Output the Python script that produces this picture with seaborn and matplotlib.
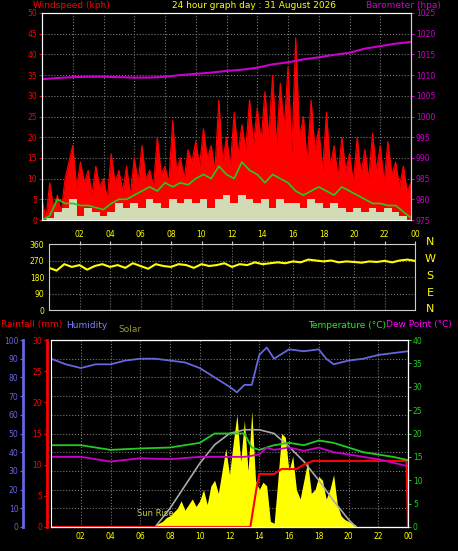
import numpy as np
import pandas as pd
import seaborn as sns
import matplotlib.pyplot as plt

# ---- data ----
hours_q = [i * 0.25 for i in range(97)]
gust = [5, 0, 9, 3, 6, 2, 10, 14, 18, 8, 14, 9, 12, 6, 13, 8, 10, 5, 16, 9, 12, 7, 13, 6,
        15, 9, 18, 10, 12, 8, 20, 11, 13, 9, 24, 12, 15, 10, 17, 14, 19, 13, 22, 15, 18, 12, 29, 14,
        20, 13, 26, 16, 23, 17, 29, 18, 27, 19, 31, 20, 35, 18, 33, 22, 37, 16, 44, 20, 25, 14, 29, 17,
        22, 12, 26, 13, 18, 10, 20, 12, 16, 9, 20, 11, 17, 10, 21, 12, 18, 9, 19, 11, 14, 8, 13, 7, 9]
hours_h = [i * 0.5 for i in range(49)]
avg_wind = [0, 1, 5, 4, 4, 3.5, 3.5, 3, 2.5, 4, 5, 5, 6, 7, 8, 7, 9, 8, 9, 8.5, 10, 11, 10, 13, 11,
            10, 14, 12, 11, 9, 11, 10, 9, 7, 6, 7, 8, 7, 6, 8, 7, 6, 5, 4, 4, 3.5, 3.5, 2, 0.5]
wind = [0, 0.5, 2, 3, 5, 1, 3, 2, 1, 2, 4, 3, 4, 3, 5, 4, 3, 5, 4, 5, 4, 5, 3, 5, 6,
        4, 6, 5, 4, 5, 3, 5, 4, 4, 3, 5, 4, 3, 4, 3, 2, 3, 2, 3, 2, 3, 2, 1, 0]
hours = list(range(25))
baro = [1009, 1009.3, 1009.5, 1009.6, 1009.6, 1009.5, 1009.4, 1009.4, 1009.6, 1010, 1010.3, 1010.6,
        1011, 1011.3, 1011.8, 1012.6, 1013.1, 1013.8, 1014.3, 1014.9, 1015.4, 1016.4, 1017, 1017.6, 1018]
wdir = [230, 215, 250, 235, 245, 220, 240, 250, 235, 245, 230, 255, 240, 225, 250, 240, 235, 250, 245, 230,
        250, 240, 245, 255, 235, 250, 245, 260, 250, 255, 260, 255, 265, 260, 275, 270, 265, 270, 260, 265,
        262, 258, 265, 262, 268, 260, 270, 275, 268]

hum_t = [0, 1, 2, 3, 4, 5, 6, 7, 8, 9, 10, 11, 12, 12.5, 13, 13.5, 14, 14.5, 15, 16, 17, 18, 18.5, 19, 20, 21, 22, 23, 24]
humidity = [90, 87, 85, 87, 87, 89, 90, 90, 89, 88, 85, 80, 75, 72, 76, 76, 92, 96, 90, 95, 94, 95, 90, 87, 89, 90, 92, 93, 94]
temp_t = [0, 2, 4, 6, 8, 10, 11, 12, 13, 13.5, 14, 15, 16, 17, 18, 19, 20, 21, 22, 23, 24]
temperature = [17.5, 17.5, 16.5, 16.8, 17, 18, 20, 20, 20, 17, 16.5, 17.5, 18, 17.5, 18.5, 18, 17, 16, 15.5, 15, 14.3]
dew_t = [0, 2, 4, 6, 8, 10, 12, 13, 14, 14.5, 15, 16, 17, 18, 19, 20, 22, 24]
dewpoint = [15, 15, 14, 14.7, 14.5, 15, 15, 15, 15.5, 17, 16.5, 17, 16.3, 17, 16, 15.5, 14.5, 13]
rain_t = [0, 13.4, 13.6, 13.8, 14, 15, 15.5, 16.5, 17, 17.6, 23.9, 24]
rain = [0, 0, 3, 6, 8.5, 8.5, 9.3, 9.3, 10, 10.6, 10.6, 0]
solar_t = [7 + i * 0.25 for i in range(55)]
solar = [1, 2, 3, 5, 6, 8, 10, 14, 9, 12, 15, 11, 14, 20, 12, 22, 25, 18, 30, 42, 28, 45, 60, 35,
         57, 30, 62, 25, 20, 24, 22, 3, 2, 25, 50, 48, 30, 38, 20, 15, 25, 35, 18, 20, 27, 25, 15, 20,
         28, 12, 6, 4, 3, 2, 1]
clear_t = [7, 8, 9, 10, 11, 12, 13, 14, 15, 16, 17, 18, 19, 20, 20.5]
clear_sky = [0, 10, 22, 34, 44, 50, 52, 52, 50, 43, 35, 25, 14, 4, 0]
tick_hours = list(range(2, 25, 2))
tick_labels = ['%02d' % (h % 24) for h in tick_hours]

sns.set_style('dark')
plt.rcParams['font.family'] = ['DejaVu Sans']
fig = plt.figure(figsize=(4.58, 5.51), dpi=100, facecolor='black')
W, H = 458, 551

def make_ax(l, t, r, b):
    ax = fig.add_axes([l / W, 1 - b / H, (r - l) / W, (b - t) / H])
    ax.set_facecolor('black')
    ax.grid(True, color='#777777', linestyle=':', linewidth=0.8)
    for s in ax.spines.values():
        s.set_color('#cccccc')
    ax.tick_params(labelsize=5.5, length=2, pad=1.5)
    return ax

# ---- top panel ----
ax1 = make_ax(42, 13, 411, 220)
ax1.fill_between(hours_q, gust, color='#ff0000', linewidth=0)
sns.lineplot(x=hours_q, y=gust, ax=ax1, color='#ff0000', linewidth=0.8)
ax1.fill_between(hours_h, wind, color='#ccf5cc', step='mid', linewidth=0, alpha=0.9)
sns.lineplot(x=hours_h, y=avg_wind, ax=ax1, color='#22cc22', linewidth=1.2)
ax1.set_xlim(0, 24)
ax1.set_ylim(0, 50)
ax1.set_yticks(range(0, 51, 5))
ax1.set_xticks(tick_hours)
ax1.tick_params(axis='y', colors='#ff0000', labelcolor='#ff0000')
ax1.tick_params(axis='x', labelbottom=False, colors='#cccccc')
ax1b = ax1.twinx()
sns.lineplot(x=hours, y=baro, ax=ax1b, color='#cc00cc', linewidth=1.5)
ax1b.set_ylim(975, 1025)
ax1b.set_yticks(range(975, 1026, 5))
ax1b.tick_params(axis='y', colors='#cc00cc', labelcolor='#cc00cc', labelsize=5.5, length=2, pad=1.5)
ax1b.spines['right'].set_color('#cccccc')
fig.text(33 / W, 1 - 5 / H, 'Windspeed (kph)', color='#ff0000', fontsize=6.5, va='center')
fig.text(254 / W, 1 - 5 / H, '24 hour graph day : 31 August 2026', color='#ffff00', fontsize=6.5, ha='center', va='center')
fig.text(366 / W, 1 - 5 / H, 'Barometer (hpa)', color='#cc00cc', fontsize=6.5, va='center')

# ---- middle panel ----
ax2 = make_ax(49, 244, 415, 310)
sns.lineplot(x=hours_h, y=wdir, ax=ax2, color='#ffff00', linewidth=1.5)
ax2.set_xlim(0, 24)
ax2.set_ylim(0, 360)
ax2.set_yticks(range(0, 361, 90))
ax2.set_xticks(tick_hours)
ax2.set_xticklabels(tick_labels)
ax2.tick_params(axis='x', top=True, labeltop=True, labelbottom=False, bottom=False,
                labelcolor='#ffff00', colors='#cccccc')
ax2.tick_params(axis='y', labelcolor='#ffff00')
for lab, yp in zip(['N', 'W', 'S', 'E', 'N'], [242, 259, 276, 293, 309]):
    fig.text(430 / W, 1 - yp / H, lab, color='#ffff00', fontsize=8, ha='center', va='center')

# ---- bottom panel ----
ax3 = make_ax(51, 340, 408, 527)
ax3.fill_between(solar_t, solar, color='#ffff00', linewidth=0)
sns.lineplot(x=clear_t, y=clear_sky, ax=ax3, color='#aaaaaa', linewidth=1.2)
sns.lineplot(x=hum_t, y=humidity, ax=ax3, color='#6666dd', linewidth=1.3)
ax3.set_xlim(0, 24)
ax3.set_ylim(0, 100)
ax3.set_xticks(tick_hours)
ax3.set_xticklabels(tick_labels)
ax3.set_yticks(range(0, 101, 10))
ax3.tick_params(axis='x', labelcolor='#ffff00', colors='#cccccc')
ax3.tick_params(axis='y', labelcolor='#6666dd', colors='#6666dd')
ax3.spines['left'].set_position(('outward', 20))
ax3.spines['left'].set_color('#6666dd')
ax3.spines['left'].set_linewidth(2)
ax3r = ax3.twinx()
sns.lineplot(x=rain_t, y=rain, ax=ax3r, color='#ff0000', linewidth=1.5)
ax3r.set_ylim(0, 30)
ax3r.set_yticks(range(0, 31, 5))
ax3r.yaxis.set_ticks_position('left')
ax3r.yaxis.set_label_position('left')
ax3r.tick_params(axis='y', colors='#ff0000', labelcolor='#ff0000', labelsize=5.5, length=2, pad=1.5)
ax3r.spines['left'].set_position(('outward', 3))
ax3r.spines['left'].set_color('#ff0000')
ax3r.spines['left'].set_linewidth(2)
ax3t = ax3.twinx()
sns.lineplot(x=temp_t, y=temperature, ax=ax3t, color='#22cc22', linewidth=1.3)
sns.lineplot(x=dew_t, y=dewpoint, ax=ax3t, color='#cc00cc', linewidth=1.3)
ax3t.set_ylim(0, 40)
ax3t.set_yticks(range(0, 41, 5))
ax3t.tick_params(axis='y', colors='#22cc22', labelcolor='#22cc22', labelsize=5.5, length=2, pad=1.5)
for a in (ax3r, ax3t):
    a.set_xlim(0, 24)
    a.grid(False)
ax3.text(7, 5, 'Sun Rise', color='#cccc33', fontsize=6, ha='center', va='bottom')
fig.text(1 / W, 1 - 325 / H, 'Rainfall (mm)', color='#ff0000', fontsize=6.5, va='center')
fig.text(66 / W, 1 - 325 / H, 'Humidity', color='#8080ff', fontsize=6.5, va='center')
fig.text(118 / W, 1 - 330 / H, 'Solar', color='#999933', fontsize=6.5, va='center')
fig.text(308 / W, 1 - 325 / H, 'Temperature (\u00b0C)', color='#22ee22', fontsize=6.5, va='center')
fig.text(386 / W, 1 - 325 / H, 'Dew Point (\u00b0C)', color='#ff00ff', fontsize=6.5, va='center')

fig.savefig('out.png', dpi=100, facecolor='black')
